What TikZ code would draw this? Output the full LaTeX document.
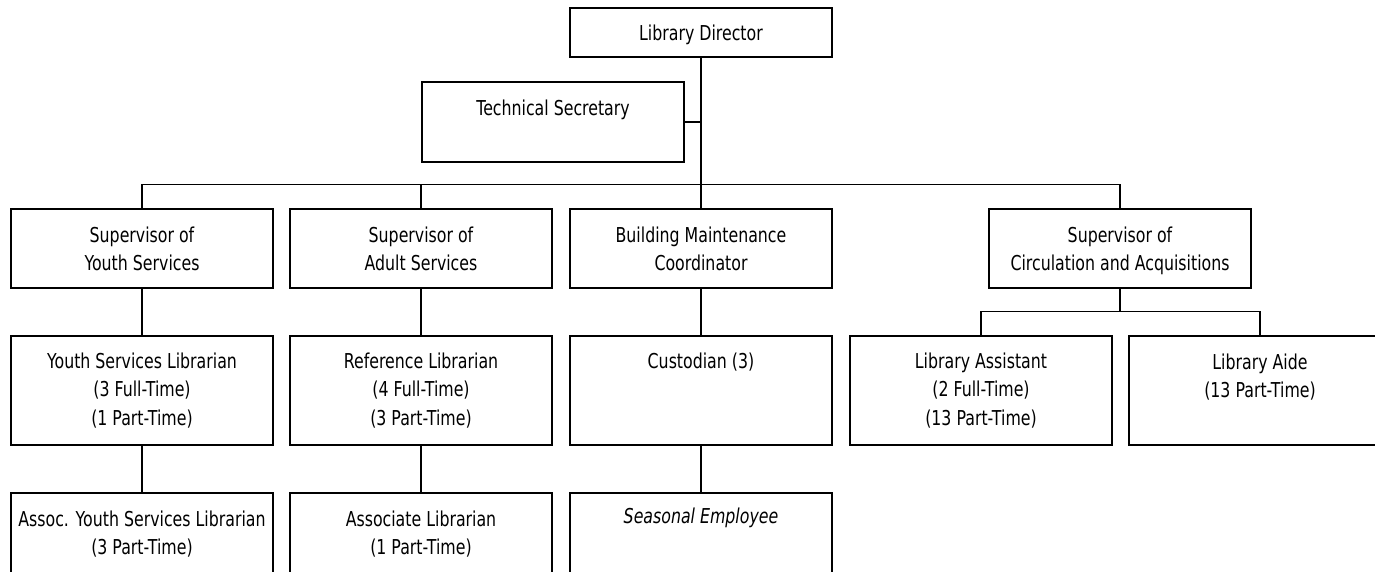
\documentclass[tikz,border=0pt]{standalone}
\usepackage{fontspec}
\setmainfont{DejaVu Sans}[FakeStretch=0.77]
\begin{document}
\begin{tikzpicture}[x=1pt,y=-1pt,
  box/.style={draw=black, line width=1.8pt, minimum width=262pt, inner sep=0pt, outer sep=0pt, anchor=north west},
  lvlA/.style={box, minimum height=49pt},
  lvlB/.style={box, minimum height=80pt},
  lvlC/.style={box, minimum height=79pt},
  lvlD/.style={box, minimum height=109pt},
  lvlE/.style={box, minimum height=130pt},
  lbl/.style={anchor=base, align=center, inner sep=0pt, font=\fontsize{20.5}{28.8}\selectfont},
  conn/.style={draw=black, line width=1.6pt}]
\useasboundingbox (0,0) rectangle (1375,571);
\clip (0,0) rectangle (1375,571);
\fill[white] (0,0) rectangle (1375,571);
% boxes
\node[lvlA] (dir) at (570,8) {};
\node[lvlB] (ts) at (422,82) {};
\node[lvlC] (youth) at (11,209) {};
\node[lvlC] (adult) at (290,209) {};
\node[lvlC] (bldg) at (570,209) {};
\node[lvlC] (circ) at (989,209) {};
\node[lvlD] (ylib) at (11,336) {};
\node[lvlD] (ref) at (290,336) {};
\node[lvlD] (cust) at (570,336) {};
\node[lvlD] (asst) at (850,336) {};
\node[lvlD] (aide) at (1129,336) {};
\node[lvlE] (aylib) at (11,493) {};
\node[lvlE] (assoc) at (290,493) {};
\node[lvlE] (seas) at (570,493) {};
% labels (anchor = baseline of the last line)
\node[lbl] (tdir) at ([yshift=-32pt]dir.north) {Library Director};
\node[lbl] (tts) at ([yshift=-33pt]ts.north) {Technical Secretary};
\node[lbl] (tyouth) at ([yshift=-61.8pt]youth.north) {Supervisor of\\Youth Services};
\node[lbl] (tadult) at ([yshift=-61.8pt]adult.north) {Supervisor of\\Adult Services};
\node[lbl] (tbldg) at ([yshift=-61.8pt]bldg.north) {Building Maintenance\\Coordinator};
\node[lbl] (tcirc) at ([yshift=-61.8pt]circ.north) {Supervisor of\\Circulation and Acquisitions};
\node[lbl] (tylib) at ([yshift=-89.6pt]ylib.north) {Youth Services Librarian\\(3 Full-Time)\\(1 Part-Time)};
\node[lbl] (tref) at ([yshift=-89.6pt]ref.north) {Reference Librarian\\(4 Full-Time)\\(3 Part-Time)};
\node[lbl] (tcust) at ([yshift=-32pt]cust.north) {Custodian (3)};
\node[lbl] (tasst) at ([yshift=-89.6pt]asst.north) {Library Assistant\\(2 Full-Time)\\(13 Part-Time)};
\node[lbl] (taide) at ([yshift=-61.8pt]aide.north) {Library Aide\\(13 Part-Time)};
\node[lbl] (taylib) at ([yshift=-61.8pt]aylib.north) {Assoc. Youth Services Librarian\\(3 Part-Time)};
\node[lbl] (tassoc) at ([yshift=-61.8pt]assoc.north) {Associate Librarian\\(1 Part-Time)};
\node[lbl] (tseas) at ([yshift=-30pt]seas.north) {\itshape Seasonal Employee};
% connectors
\path (dir.south) ++(0,127.5) coordinate (bus);
\path (circ.south) ++(0,23.5) coordinate (sub);
\draw[conn] (dir.south) -- (bus);
\draw[conn] (ts.east) -- (ts.east -| dir.south);
\draw[conn] (youth.north) |- (bus) -| (circ.north);
\draw[conn] (adult.north) -- (adult.north |- bus);
\draw[conn] (bldg.north) -- (bus);
\draw[conn] (youth.south) -- (ylib.north);
\draw[conn] (ylib.south) -- (aylib.north);
\draw[conn] (adult.south) -- (ref.north);
\draw[conn] (ref.south) -- (assoc.north);
\draw[conn] (bldg.south) -- (cust.north);
\draw[conn] (cust.south) -- (seas.north);
\draw[conn] (circ.south) -- (sub);
\draw[conn] (asst.north) |- (sub) -| (aide.north);
\end{tikzpicture}
\end{document}
